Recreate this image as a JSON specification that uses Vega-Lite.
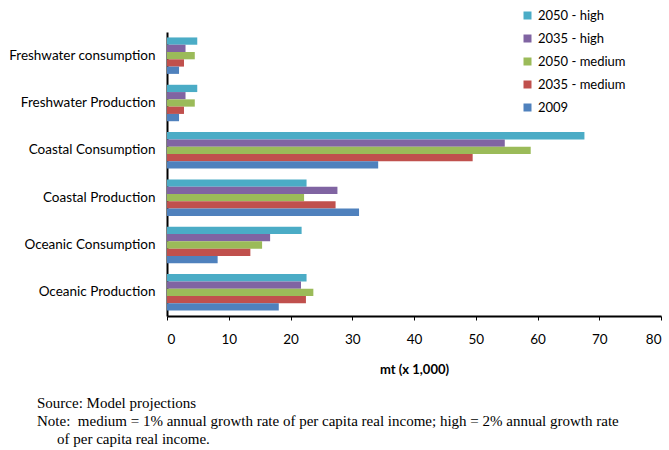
{
  "$schema": "https://vega.github.io/schema/vega-lite/v6.json",
  "width": 494,
  "height": 284,
  "autosize": {"type": "none"},
  "padding": {"left": 167, "top": 32, "right": 8, "bottom": 134},
  "background": "white",
  "title": {
    "text": ["Source: Model projections", "Note:\u00a0 medium = 1% annual growth rate of per capita real income; high = 2% annual growth rate", "\u200b\u2003\u2004of per capita real income."],
    "orient": "bottom",
    "anchor": "start",
    "frame": "group",
    "dx": -130,
    "offset": 19,
    "font": "Liberation Serif",
    "fontSize": 15,
    "fontWeight": "normal",
    "lineHeight": 18,
    "color": "black"
  },
  "data": {
    "values": [
      {"category": "Freshwater consumption", "series": "2050 - high", "value": 4.9},
      {"category": "Freshwater consumption", "series": "2035 - high", "value": 3.0},
      {"category": "Freshwater consumption", "series": "2050 - medium", "value": 4.5},
      {"category": "Freshwater consumption", "series": "2035 - medium", "value": 2.75},
      {"category": "Freshwater consumption", "series": "2009", "value": 1.95},
      {"category": "Freshwater Production", "series": "2050 - high", "value": 4.9},
      {"category": "Freshwater Production", "series": "2035 - high", "value": 3.0},
      {"category": "Freshwater Production", "series": "2050 - medium", "value": 4.5},
      {"category": "Freshwater Production", "series": "2035 - medium", "value": 2.75},
      {"category": "Freshwater Production", "series": "2009", "value": 1.95},
      {"category": "Coastal Consumption", "series": "2050 - high", "value": 67.6},
      {"category": "Coastal Consumption", "series": "2035 - high", "value": 54.7},
      {"category": "Coastal Consumption", "series": "2050 - medium", "value": 58.9},
      {"category": "Coastal Consumption", "series": "2035 - medium", "value": 49.5},
      {"category": "Coastal Consumption", "series": "2009", "value": 34.2},
      {"category": "Coastal Production", "series": "2050 - high", "value": 22.6},
      {"category": "Coastal Production", "series": "2035 - high", "value": 27.6},
      {"category": "Coastal Production", "series": "2050 - medium", "value": 22.2},
      {"category": "Coastal Production", "series": "2035 - medium", "value": 27.3},
      {"category": "Coastal Production", "series": "2009", "value": 31.1},
      {"category": "Oceanic Consumption", "series": "2050 - high", "value": 21.8},
      {"category": "Oceanic Consumption", "series": "2035 - high", "value": 16.7},
      {"category": "Oceanic Consumption", "series": "2050 - medium", "value": 15.4},
      {"category": "Oceanic Consumption", "series": "2035 - medium", "value": 13.5},
      {"category": "Oceanic Consumption", "series": "2009", "value": 8.2},
      {"category": "Oceanic Production", "series": "2050 - high", "value": 22.6},
      {"category": "Oceanic Production", "series": "2035 - high", "value": 21.7},
      {"category": "Oceanic Production", "series": "2050 - medium", "value": 23.7},
      {"category": "Oceanic Production", "series": "2035 - medium", "value": 22.5},
      {"category": "Oceanic Production", "series": "2009", "value": 18.1}
    ]
  },
  "mark": {"type": "bar"},
  "encoding": {
    "y": {
      "field": "category",
      "type": "nominal",
      "sort": ["Freshwater consumption", "Freshwater Production", "Coastal Consumption", "Coastal Production", "Oceanic Consumption", "Oceanic Production"],
      "scale": {"paddingInner": 0.23, "paddingOuter": 0.115},
      "axis": {"title": null, "ticks": false, "labelPadding": 12, "domainColor": "black", "domainWidth": 2}
    },
    "yOffset": {
      "field": "series",
      "type": "nominal",
      "scale": {"domain": ["2050 - high", "2035 - high", "2050 - medium", "2035 - medium", "2009"], "padding": 0}
    },
    "x": {
      "field": "value",
      "type": "quantitative",
      "scale": {"domain": [0, 80], "nice": false},
      "axis": {"title": "mt (x 1,000)", "values": [0,10,20,30,40,50,60,70,80], "labelOverlap": false, "grid": false, "tickSize": 4, "tickColor": "black", "domainColor": "black", "domainWidth": 2, "labelPadding": 12, "titlePadding": 18, "titleFontWeight": "bold", "titleFontSize": 13}
    },
    "color": {
      "field": "series",
      "type": "nominal",
      "scale": {"domain": ["2050 - high", "2035 - high", "2050 - medium", "2035 - medium", "2009"], "range": ["#4BACC6", "#8064A2", "#9BBB59", "#C0504D", "#4F81BD"]},
      "legend": {"title": null, "orient": "none", "legendX": 354, "legendY": -23, "symbolType": "square", "symbolSize": 64, "symbolStrokeWidth": 0, "labelFontSize": 13, "rowPadding": 9, "labelOffset": 4}
    }
  },
  "config": {
    "view": {"stroke": null},
    "font": "Lato",
    "axis": {"labelFont": "Lato", "labelFontSize": 13.5, "labelColor": "black", "titleFont": "Lato", "titleColor": "black"},
    "legend": {"labelFont": "Lato", "labelColor": "black"}
  }
}
